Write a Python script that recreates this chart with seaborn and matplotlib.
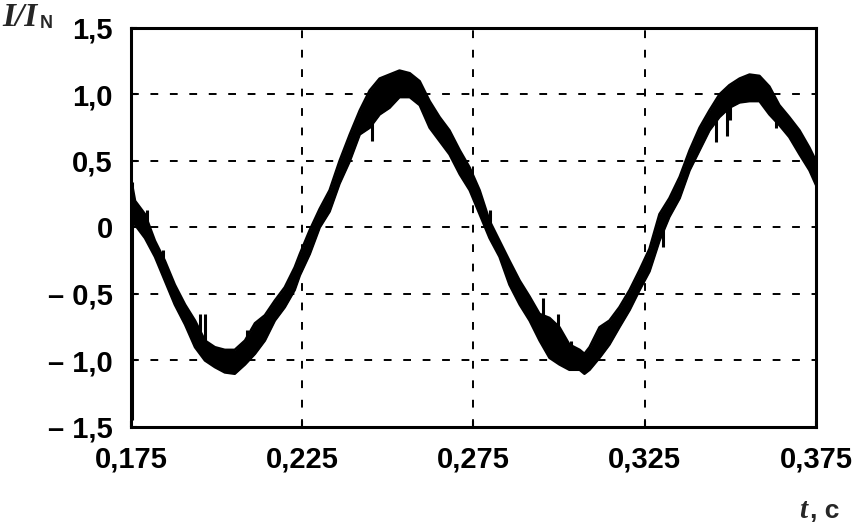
import numpy as np
import pandas as pd
import matplotlib
matplotlib.use("Agg")
import matplotlib.pyplot as plt
import seaborn as sns

# === DATA ===
# time, lower and upper edge of the noisy current trace, I/I_N
t = [0.1752, 0.1762, 0.1791, 0.1820, 0.1849, 0.1878, 0.1908, 0.1937, 0.1966,
     0.1995, 0.2024, 0.2053, 0.2083, 0.2112, 0.2141, 0.2170, 0.2199, 0.2228,
     0.2243, 0.2272, 0.2301, 0.2330, 0.2359, 0.2389, 0.2418, 0.2447, 0.2476,
     0.2505, 0.2534, 0.2564, 0.2593, 0.2622, 0.2651, 0.2680, 0.2710, 0.2739,
     0.2768, 0.2797, 0.2826, 0.2855, 0.2885, 0.2914, 0.2943, 0.2972, 0.3001,
     0.3030, 0.3060, 0.3074, 0.3089, 0.3118, 0.3147, 0.3176, 0.3206, 0.3235,
     0.3264, 0.3293, 0.3322, 0.3352, 0.3381, 0.3410, 0.3439, 0.3468, 0.3497,
     0.3527, 0.3556, 0.3585, 0.3614, 0.3643, 0.3672, 0.3702, 0.3731, 0.3750]
i_low = [0.05, 0.02, -0.08, -0.22, -0.40, -0.58, -0.73, -0.90, -1.00,
         -1.05, -1.09, -1.10, -1.03, -0.95, -0.85, -0.70, -0.60, -0.47,
         -0.36, -0.20, 0.00, 0.12, 0.33, 0.50, 0.70, 0.75, 0.85,
         0.90, 0.98, 0.98, 0.92, 0.75, 0.65, 0.55, 0.40, 0.28,
         0.10, -0.08, -0.22, -0.43, -0.58, -0.70, -0.85, -0.98, -1.03,
         -1.07, -1.07, -1.10, -1.07, -0.98, -0.88, -0.75, -0.62, -0.47,
         -0.33, -0.10, 0.08, 0.22, 0.43, 0.58, 0.73, 0.83, 0.90,
         0.94, 0.95, 0.95, 0.85, 0.77, 0.68, 0.55, 0.43, 0.32]
i_up = [0.34, 0.20, 0.10, -0.10, -0.25, -0.43, -0.58, -0.70, -0.85,
        -0.90, -0.92, -0.92, -0.85, -0.72, -0.66, -0.55, -0.45, -0.30,
        -0.20, -0.02, 0.14, 0.28, 0.50, 0.70, 0.88, 1.03, 1.12,
        1.15, 1.18, 1.16, 1.10, 0.95, 0.83, 0.73, 0.58, 0.45,
        0.28, 0.05, -0.10, -0.25, -0.40, -0.52, -0.65, -0.68, -0.75,
        -0.88, -0.92, -0.95, -0.90, -0.75, -0.70, -0.60, -0.47, -0.32,
        -0.16, 0.10, 0.22, 0.38, 0.58, 0.75, 0.88, 1.00, 1.07,
        1.12, 1.15, 1.14, 1.06, 0.92, 0.83, 0.73, 0.60, 0.50]

# single spikes sticking out of the trace
spike_t = [0.1753, 0.1797, 0.1843, 0.1953, 0.1965, 0.2088, 0.2453, 0.2797,
           0.2952, 0.2996, 0.3034, 0.3302, 0.3457, 0.3489, 0.3500, 0.3634]
spike_from = [-1.45, -0.05, -0.35, -0.85, -0.85, -0.95, 0.85, -0.05,
              -0.80, -0.85, -0.95, 0.05, 0.85, 0.90, 0.95, 0.90]
spike_to = [0.34, 0.13, -0.17, -0.65, -0.65, -0.77, 0.65, 0.13,
            -0.53, -0.65, -0.85, -0.15, 0.64, 0.69, 0.81, 0.75]

x_ticks = [0.175, 0.225, 0.275, 0.325, 0.375]
x_labels = ["0,175", "0,225", "0,275", "0,325", "0,375"]
y_ticks = [-1.5, -1.0, -0.5, 0, 0.5, 1.0, 1.5]
y_labels = ["– 1,5", "– 1,0", "– 0,5", "0", "0,5", "1,0", "1,5"]

df = pd.DataFrame({"t": t, "low": i_low, "up": i_up})

# === PLOT ===
sns.set_theme(style="white")
plt.rcParams["font.family"] = ["Liberation Sans", "DejaVu Sans"]

fig = plt.figure(figsize=(8.61, 5.27), dpi=100)
ax = fig.add_axes([0.1521, 0.1898, 0.7956, 0.7571])

ax.fill_between(df["t"], df["low"], df["up"], color="black", lw=0)
sns.lineplot(data=df, x="t", y="low", color="black", lw=1.8, ax=ax)
sns.lineplot(data=df, x="t", y="up", color="black", lw=1.8, ax=ax)
ax.vlines(spike_t, spike_from, spike_to, color="black", lw=2.2)

ax.set_xlim(0.175, 0.375)
ax.set_ylim(-1.5, 1.5)
ax.set_xticks(x_ticks)
ax.set_xticklabels(x_labels)
ax.set_yticks(y_ticks)
ax.set_yticklabels(y_labels)
ax.set_xlabel("")
ax.set_ylabel("")

for lab in ax.get_xticklabels() + ax.get_yticklabels():
    lab.set_fontweight("bold")
    lab.set_fontsize(21)
    lab.set_color("black")

ax.tick_params(axis="both", direction="in", length=4, width=1.5,
               color="black", pad=13, bottom=True, left=True)

ax.grid(True, color="black", lw=1.4, linestyle=(0, (4, 6)))
for s in ax.spines.values():
    s.set_color("black")
    s.set_linewidth(2.2)

# axis captions
fig.text(2 / 861, 1 - 26 / 527, "I/I", family=["Liberation Serif", "DejaVu Serif"],
         fontsize=24, fontweight="bold", style="italic", ha="left", va="baseline")
fig.text(40 / 861, 1 - 28 / 527, "N", fontsize=13, fontweight="bold",
         ha="left", va="baseline")
fig.text(799 / 861, 1 - 518 / 527, "t", family=["Liberation Serif", "DejaVu Serif"],
         fontsize=21, fontweight="bold", style="italic", ha="left", va="baseline")
fig.text(810 / 861, 1 - 518 / 527, ", c", fontsize=19, fontweight="bold",
         ha="left", va="baseline")

plt.savefig("out.png", dpi=100)
plt.close()
